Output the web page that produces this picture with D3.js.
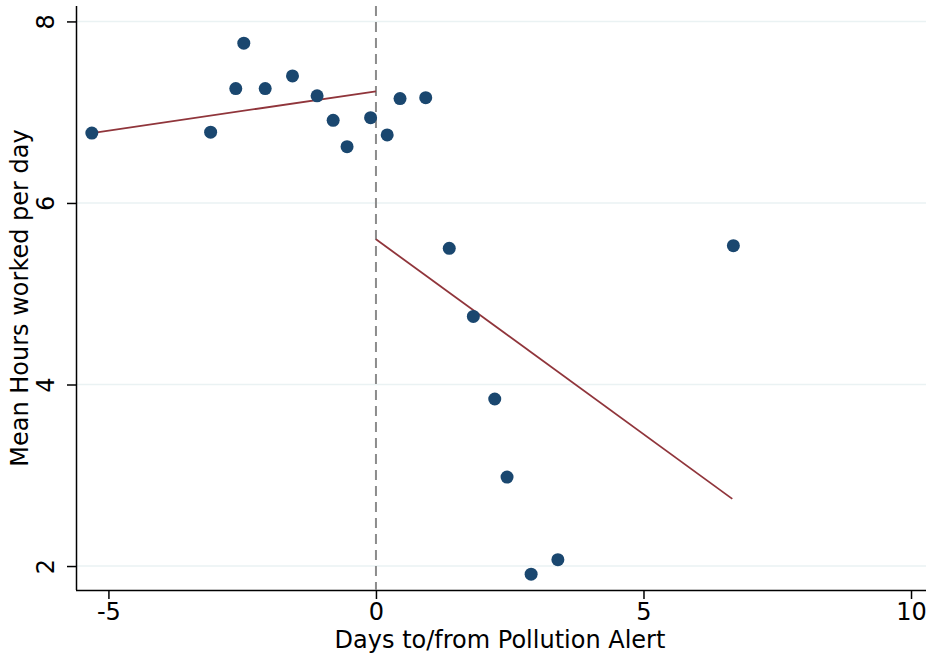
<!DOCTYPE html>
<meta charset="utf-8">
<script src="https://d3js.org/d3.v7.min.js"></script>
<style>
  body { margin: 0; background: #fff; }
  svg text { font-family: "DejaVu Sans", sans-serif; fill: #000; }
</style>
<div id="chart"></div>
<script>
// binned means
var days  = [-5.31, -3.09, -2.62, -2.47, -2.07, -1.56, -1.10, -0.80, -0.54, -0.10,
             0.21, 0.45, 0.93, 1.37, 1.82, 2.22, 2.45, 2.90, 3.40, 6.68];
var hours = [6.77, 6.78, 7.26, 7.76, 7.26, 7.40, 7.18, 6.91, 6.62, 6.94,
             6.75, 7.15, 7.16, 5.50, 4.75, 3.84, 2.98, 1.91, 2.07, 5.53];

// fitted lines before / after the alert (end points)
var fitBeforeX = [-5.31, 0];
var fitBeforeY = [6.77, 7.23];
var fitAfterX  = [0, 6.66];
var fitAfterY  = [5.60, 2.74];

var xTicks = [-5, 0, 5, 10];
var yTicks = [2, 4, 6, 8];

var margin = {top: 6, right: 3, bottom: 65, left: 76},
    width = 929 - margin.left - margin.right,
    height = 655 - margin.top - margin.bottom;

var svg = d3.select("#chart")
  .append("svg")
    .attr("width", 929)
    .attr("height", 655)
  .append("g")
    .attr("transform", "translate(" + margin.left + "," + margin.top + ")");

var x = d3.scaleLinear().domain([-5.606, 10.28]).range([0, width]);
var y = d3.scaleLinear().domain([1.736, 8.17]).range([height, 0]);

// gridlines
svg.selectAll(".grid")
  .data(yTicks)
  .enter().append("line")
    .attr("x1", 0).attr("x2", width)
    .attr("y1", function(d) { return y(d); })
    .attr("y2", function(d) { return y(d); })
    .style("stroke", "#eaf2f3")
    .style("stroke-width", 1.5);

// x axis
var xAxis = svg.append("g")
  .attr("transform", "translate(0," + height + ")")
  .call(d3.axisBottom(x).tickValues(xTicks).tickSize(9).tickPadding(4).tickFormat(d3.format("d")));
xAxis.select(".domain").attr("d", "M0,0.5H" + width).style("stroke", "#000").style("stroke-width", 1.5);
xAxis.selectAll(".tick line").style("stroke-width", 1.5);
xAxis.selectAll("text").style("font-size", "24px").text(function(d) { return String(d).replace("\u2212", "-"); });

// y axis
var yAxis = svg.append("g")
  .call(d3.axisLeft(y).tickValues(yTicks).tickSize(9).tickFormat(d3.format("d")));
yAxis.select(".domain").attr("d", "M0.5,0V" + height).style("stroke", "#000").style("stroke-width", 1.5);
yAxis.selectAll(".tick line").style("stroke-width", 1.5);
yAxis.selectAll("text")
  .style("font-size", "24px")
  .attr("text-anchor", "middle")
  .attr("x", null).attr("dy", null)
  .attr("transform", "translate(-22,0) rotate(-90)");

// alert line
svg.append("line")
  .attr("x1", x(0)).attr("x2", x(0))
  .attr("y1", 0).attr("y2", height)
  .style("stroke", "#8c8c8c")
  .style("stroke-width", 2)
  .style("stroke-dasharray", "10,6");

// fit lines
var line = d3.line().x(function(d) { return x(d[0]); }).y(function(d) { return y(d[1]); });
[[fitBeforeX, fitBeforeY], [fitAfterX, fitAfterY]].forEach(function(f) {
  svg.append("path")
    .datum(d3.zip(f[0], f[1]))
    .attr("d", line)
    .style("fill", "none")
    .style("stroke", "#90353b")
    .style("stroke-width", 1.8);
});

// points
svg.selectAll(".dot")
  .data(d3.zip(days, hours))
  .enter().append("circle")
    .attr("cx", function(d) { return x(d[0]); })
    .attr("cy", function(d) { return y(d[1]); })
    .attr("r", 6.5)
    .style("fill", "#1a476f");

// axis titles
svg.append("text")
  .attr("x", 500 - margin.left)
  .attr("y", height + 58)
  .attr("text-anchor", "middle")
  .style("font-size", "24px")
  .text("Days to/from Pollution Alert");

svg.append("text")
  .attr("transform", "translate(" + (28 - margin.left) + "," + (298 - margin.top) + ") rotate(-90)")
  .attr("text-anchor", "middle")
  .style("font-size", "24px")
  .text("Mean Hours worked per day");
</script>
